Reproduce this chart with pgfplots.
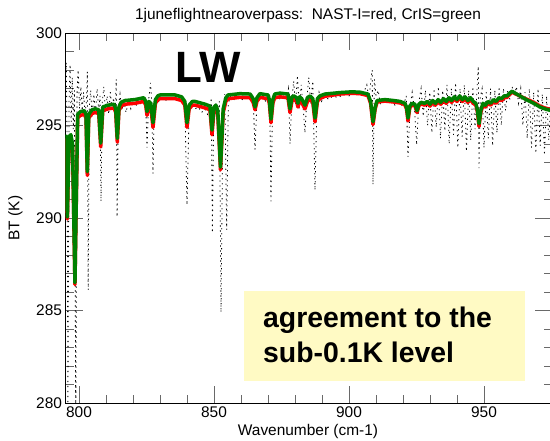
\documentclass[border=0pt]{standalone}
\usepackage{pgfplots}
\usepackage{pgfplotstable}
\pgfplotsset{compat=1.18}
\usepackage{fontspec}
\setmainfont{Liberation Sans}

\definecolor{crisgreen}{RGB}{0,128,0}
\definecolor{boxyellow}{RGB}{255,250,196}
\definecolor{tickgray}{RGB}{105,105,105}

% CrIS (green)
\pgfplotstableread{
w T
795.0 294.5
795.7 290.05
796.3 294.4
797.0 294.5
797.6 294.0
798.5 286.5
799.5 295.6
800.5 295.75
802.0 295.8
802.6 295.6
803.07 292.5
803.6 295.6
804.8 295.85
806.0 295.9
807.3 295.85
808.04 294.05
808.8 296.0
810.7 296.1
813.0 296.15
813.6 295.9
814.19 294.3
814.8 296.0
815.6 296.25
817.0 296.35
820.7 296.4
824.0 296.5
824.7 296.3
825.19 295.75
825.9 296.3
826.6 296.2
827.41 295.15
828.3 296.4
829.2 296.6
830.0 296.65
835.6 296.65
838.0 296.55
839.2 296.3
840.0 295.15
840.8 296.1
842.0 296.3
843.0 296.3
846.7 296.15
848.5 296.05
849.26 294.75
850.0 296.0
850.7 296.1
851.4 295.8
852.41 292.75
853.4 295.9
854.4 296.5
855.2 296.65
859.6 296.72
863.4 296.7
864.5 296.45
865.19 296.0
865.9 296.5
867.0 296.72
870.0 296.65
870.5 296.4
871.11 295.35
871.8 296.4
872.5 296.7
874.4 296.75
877.4 296.7
878.15 295.9
878.9 296.55
879.6 296.6
880.6 296.5
881.1 296.2
881.7 296.55
882.5 296.45
883.7 296.1
884.6 296.5
885.6 296.6
886.6 296.45
887.41 295.4
888.3 296.45
889.2 296.6
891.1 296.7
896.7 296.78
901 296.82
904.1 296.8
907.0 296.7
908.0 296.3
908.89 295.2
909.7 296.0
910.4 296.35
913.3 296.4
916.5 296.35
918.9 296.3
920.7 296.2
921.3 296.0
921.85 295.4
922.5 296.05
923.4 296.2
924.4 296.15
925.19 295.8
925.9 296.15
926.7 296.25
928 296.2
929 296.3
930 296.15
931 296.35
932 296.2
933 296.4
934 296.25
935 296.45
936 296.3
937 296.5
938 296.35
939 296.55
940 296.4
941 296.6
942 296.4
943 296.55
944 296.35
945 296.5
946 296.3
947.0 296.2
947.6 295.8
948.15 295.1
948.8 295.8
949.6 296.2
950.5 296.1
951.5 296.3
952.5 296.2
953.5 296.4
954.5 296.3
955.5 296.5
956.5 296.45
957.5 296.6
958.5 296.6
959.5 296.75
960.4 296.85
961.5 296.75
963.3 296.6
965 296.45
967.0 296.3
969 296.15
970.7 296.0
972.5 295.9
975 295.8
}\cris

% NAST-I convolved (red)
\pgfplotstableread{
w T
795.0 294.3
795.7 289.95
796.3 294.2
797.0 294.3
797.6 293.8
798.5 286.4
799.5 295.4
800.5 295.55
802.0 295.6
802.6 295.4
803.07 292.3
803.6 295.4
804.8 295.65
806.0 295.7
807.3 295.65
808.04 293.85
808.8 295.8
810.7 295.9
813.0 295.95
813.6 295.7
814.19 294.1
814.8 295.8
815.6 296.05
817.0 296.15
820.7 296.2
824.0 296.3
824.7 296.1
825.19 295.55
825.9 296.1
826.6 296.0
827.41 294.9
828.3 296.2
829.2 296.4
830.0 296.45
835.6 296.45
838.0 296.35
839.2 296.1
840.0 294.9
840.8 295.9
842.0 296.1
843.0 296.1
846.7 295.95
848.5 295.85
849.26 294.5
850.0 295.8
850.7 295.9
851.4 295.6
852.41 292.6
853.4 295.7
854.4 296.3
855.2 296.45
859.6 296.52
863.4 296.5
864.5 296.25
865.19 295.85
865.9 296.3
867.0 296.52
870.0 296.45
870.5 296.2
871.11 295.15
871.8 296.2
872.5 296.5
874.4 296.55
877.4 296.5
878.15 295.7
878.9 296.35
879.6 296.4
880.6 296.3
881.1 296.0
881.7 296.35
882.5 296.25
883.7 295.9
884.6 296.3
885.6 296.4
886.6 296.25
887.41 295.2
888.3 296.3
889.2 296.45
891.1 296.58
896.7 296.7
901 296.74
904.1 296.72
907.0 296.62
908.0 296.2
908.89 295.05
909.7 295.9
910.4 296.27
913.3 296.32
916.5 296.27
918.9 296.22
920.7 296.12
921.3 295.9
921.85 295.25
922.5 295.95
923.4 296.12
924.4 296.07
925.19 295.7
925.9 296.07
926.7 296.17
928 296.1
929 296.2
930 296.05
931 296.25
932 296.1
933 296.3
934 296.15
935 296.35
936 296.2
937 296.4
938 296.25
939 296.45
940 296.3
941 296.5
942 296.3
943 296.45
944 296.25
945 296.4
946 296.2
947.0 296.1
947.6 295.7
948.15 294.95
948.8 295.7
949.6 296.1
950.5 296.0
951.5 296.2
952.5 296.1
953.5 296.3
954.5 296.2
955.5 296.4
956.5 296.35
957.5 296.5
958.5 296.52
959.5 296.68
960.4 296.8
961.5 296.72
963.3 296.6
965 296.47
967.0 296.35
969 296.2
970.7 296.05
972.5 295.95
975 295.85
}\nasti

% NAST-I full resolution (black dotted)
\pgfplotstableread{
w T
794.9 297.5
795.3 298.4
795.6 294.0
795.9 279.0
796.3 296.2
796.7 298.3
797.1 295.2
797.5 297.6
797.9 294.8
798.3 296.9
798.8 279.0
799.3 296.8
799.7 298.0
800.2 295.9
800.7 297.1
801.2 295.8
801.7 296.8
802.2 295.6
802.8 296.4
803.1 297.9
803.4 286.1
803.8 296.0
804.3 296.9
804.9 295.5
805.5 296.7
806.1 295.6
806.7 297.0
807.3 295.8
807.8 296.6
808.15 290.9
808.6 296.2
809.2 297.1
809.8 295.7
810.4 296.6
811.0 295.6
811.6 296.8
812.2 295.9
812.8 296.5
813.4 295.6
813.8 297.5
814.1 290.05
814.6 296.0
815.2 296.7
815.9 295.8
816.6 296.4
817.4 295.7
818.3 296.3
819.2 295.9
820.1 296.4
821.0 296.0
822.0 296.4
823.0 296.1
824.0 296.5
824.7 296.2
825.2 293.8
825.8 296.4
826.5 297.3
827.0 296.1
827.4 292.4
827.9 296.2
828.6 296.6
829.5 296.3
830.5 296.5
832 296.35
833.5 296.5
835 296.4
836.5 296.5
838 296.3
839.2 296.1
840.0 290.7
840.8 295.9
841.8 296.1
843.0 295.9
844.2 296.0
845.4 295.7
846.6 295.9
847.6 295.6
848.4 295.8
849.0 296.5
849.4 289.2
849.9 295.7
850.6 296.1
851.4 295.4
852.0 296.3
852.6 284.9
853.3 295.6
854.0 296.7
854.7 289.35
855.3 296.2
856.2 296.6
857.5 296.4
859 296.55
860.5 296.4
862 296.55
863.5 296.4
864.6 296.1
865.2 293.7
865.9 296.3
867 296.5
868.5 296.4
870.0 296.2
870.6 296.7
871.1 290.9
871.7 296.2
872.6 296.5
874 296.4
875.5 296.6
876.8 296.4
877.6 297.0
878.15 294.0
878.8 296.3
879.5 297.4
880.2 296.1
880.9 297.7
881.6 295.9
882.3 297.2
883.0 296.0
883.7 294.6
884.4 296.5
885.1 297.6
885.8 296.2
886.6 297.4
887.41 291.5
888.1 296.0
888.9 296.8
889.8 296.3
891 296.6
892.5 296.4
894 296.6
896 296.5
898 296.7
900 296.6
902 296.75
904 296.65
905.5 296.8
906.6 297.2
907.4 296.4
908.2 297.6
908.6 298.0
908.89 291.8
909.4 297.5
910.0 296.6
910.8 296.9
911.6 296.2
912.6 296.5
914 296.2
915.5 296.4
917 296.1
918.5 296.3
920 296.0
921.2 296.6
921.85 293.3
922.6 296.0
923.4 296.8
924.3 295.8
925.07 293.95
925.8 296.2
926.7 297.0
927.5 295.5
928.3 296.9
929.1 295.0
929.9 296.8
930.7 294.6
931.5 297.0
932.3 294.9
933.1 297.1
933.9 294.3
934.7 296.9
935.5 294.7
936.3 297.2
937.1 294.0
937.9 297.0
938.7 294.5
939.5 297.3
940.3 293.8
941.1 297.0
941.9 294.4
942.7 297.2
943.5 293.6
944.3 296.9
945.1 294.2
945.9 297.1
946.7 294.8
947.5 297.2
947.9 298.2
948.15 292.7
948.6 296.5
949.3 297.0
950.0 293.8
950.8 296.8
951.6 294.3
952.4 297.0
953.2 293.9
954.0 296.9
954.8 294.6
955.6 297.1
956.4 295.0
957.2 297.0
958.0 295.8
958.8 296.9
959.6 296.4
960.4 297.1
961.2 296.6
962.0 297.1
962.8 296.2
963.6 297.0
964.4 295.0
965.2 296.8
966.0 294.3
966.8 297.0
967.6 293.8
968.4 296.8
969.2 293.5
970.0 297.0
970.8 293.9
971.6 296.7
972.4 293.4
973.2 296.6
974.0 294.2
974.8 296.4
}\nastfull

\begin{document}
\begin{tikzpicture}
\begin{axis}[
  at={(0,0)}, anchor=south west,
  scale only axis,
  width=486bp, height=370bp,
  xmin=795, xmax=975, ymin=280, ymax=300,
  xtick={800,850,900,950}, minor x tick num=4,
  ytick={280,285,290,295,300}, minor y tick num=4,
  major tick length=17bp, minor tick length=8bp,
  tick style={tickgray, line width=0.8bp},
  axis line style={line width=0.8bp},
  tick label style={font=\fontsize{15.5}{16}\selectfont},
  /pgf/number format/assume math mode=true,
  /pgf/number format/1000 sep={},
]
\addplot[black, line width=0.8bp, dash pattern=on 1.3bp off 3.7bp] table[x=w, y=T] {\nastfull};
\addplot[red, line width=3.5bp, line join=round] table[x=w, y=T] {\nasti};
\addplot[crisgreen, line width=3.5bp, line join=round] table[x=w, y=T] {\cris};
\end{axis}
% title and labels
\node[anchor=base, inner sep=0, font=\fontsize{15.5}{16}\selectfont] at (242.5bp,383.7bp)
  {1juneflightnearoverpass:\ \ NAST-I=red, CrIS=green};
\node[anchor=base, inner sep=0, font=\fontsize{15.5}{16}\selectfont] at (242.5bp,-32bp)
  {Wavenumber (cm-1)};
\node[rotate=90, inner sep=0, font=\fontsize{15.5}{16}\selectfont] at (-50bp,185bp) {BT (K)};
% annotations
\node[anchor=base west, inner sep=0, font=\fontsize{44}{44}\selectfont\bfseries] at (109.5bp,320bp) {LW};
\fill[boxyellow] (178.5bp,22bp) rectangle (459.5bp,112bp);
\node[anchor=base west, inner sep=0, font=\fontsize{28.5}{29}\selectfont\bfseries] at (197.5bp,75bp) {agreement to the};
\node[anchor=base west, inner sep=0, font=\fontsize{28.5}{29}\selectfont\bfseries] at (197.5bp,40bp) {sub-0.1K level};
\pgfresetboundingbox
\path[use as bounding box] (-65.5bp,-38bp) rectangle (484.5bp,403bp);
\end{tikzpicture}
\end{document}
